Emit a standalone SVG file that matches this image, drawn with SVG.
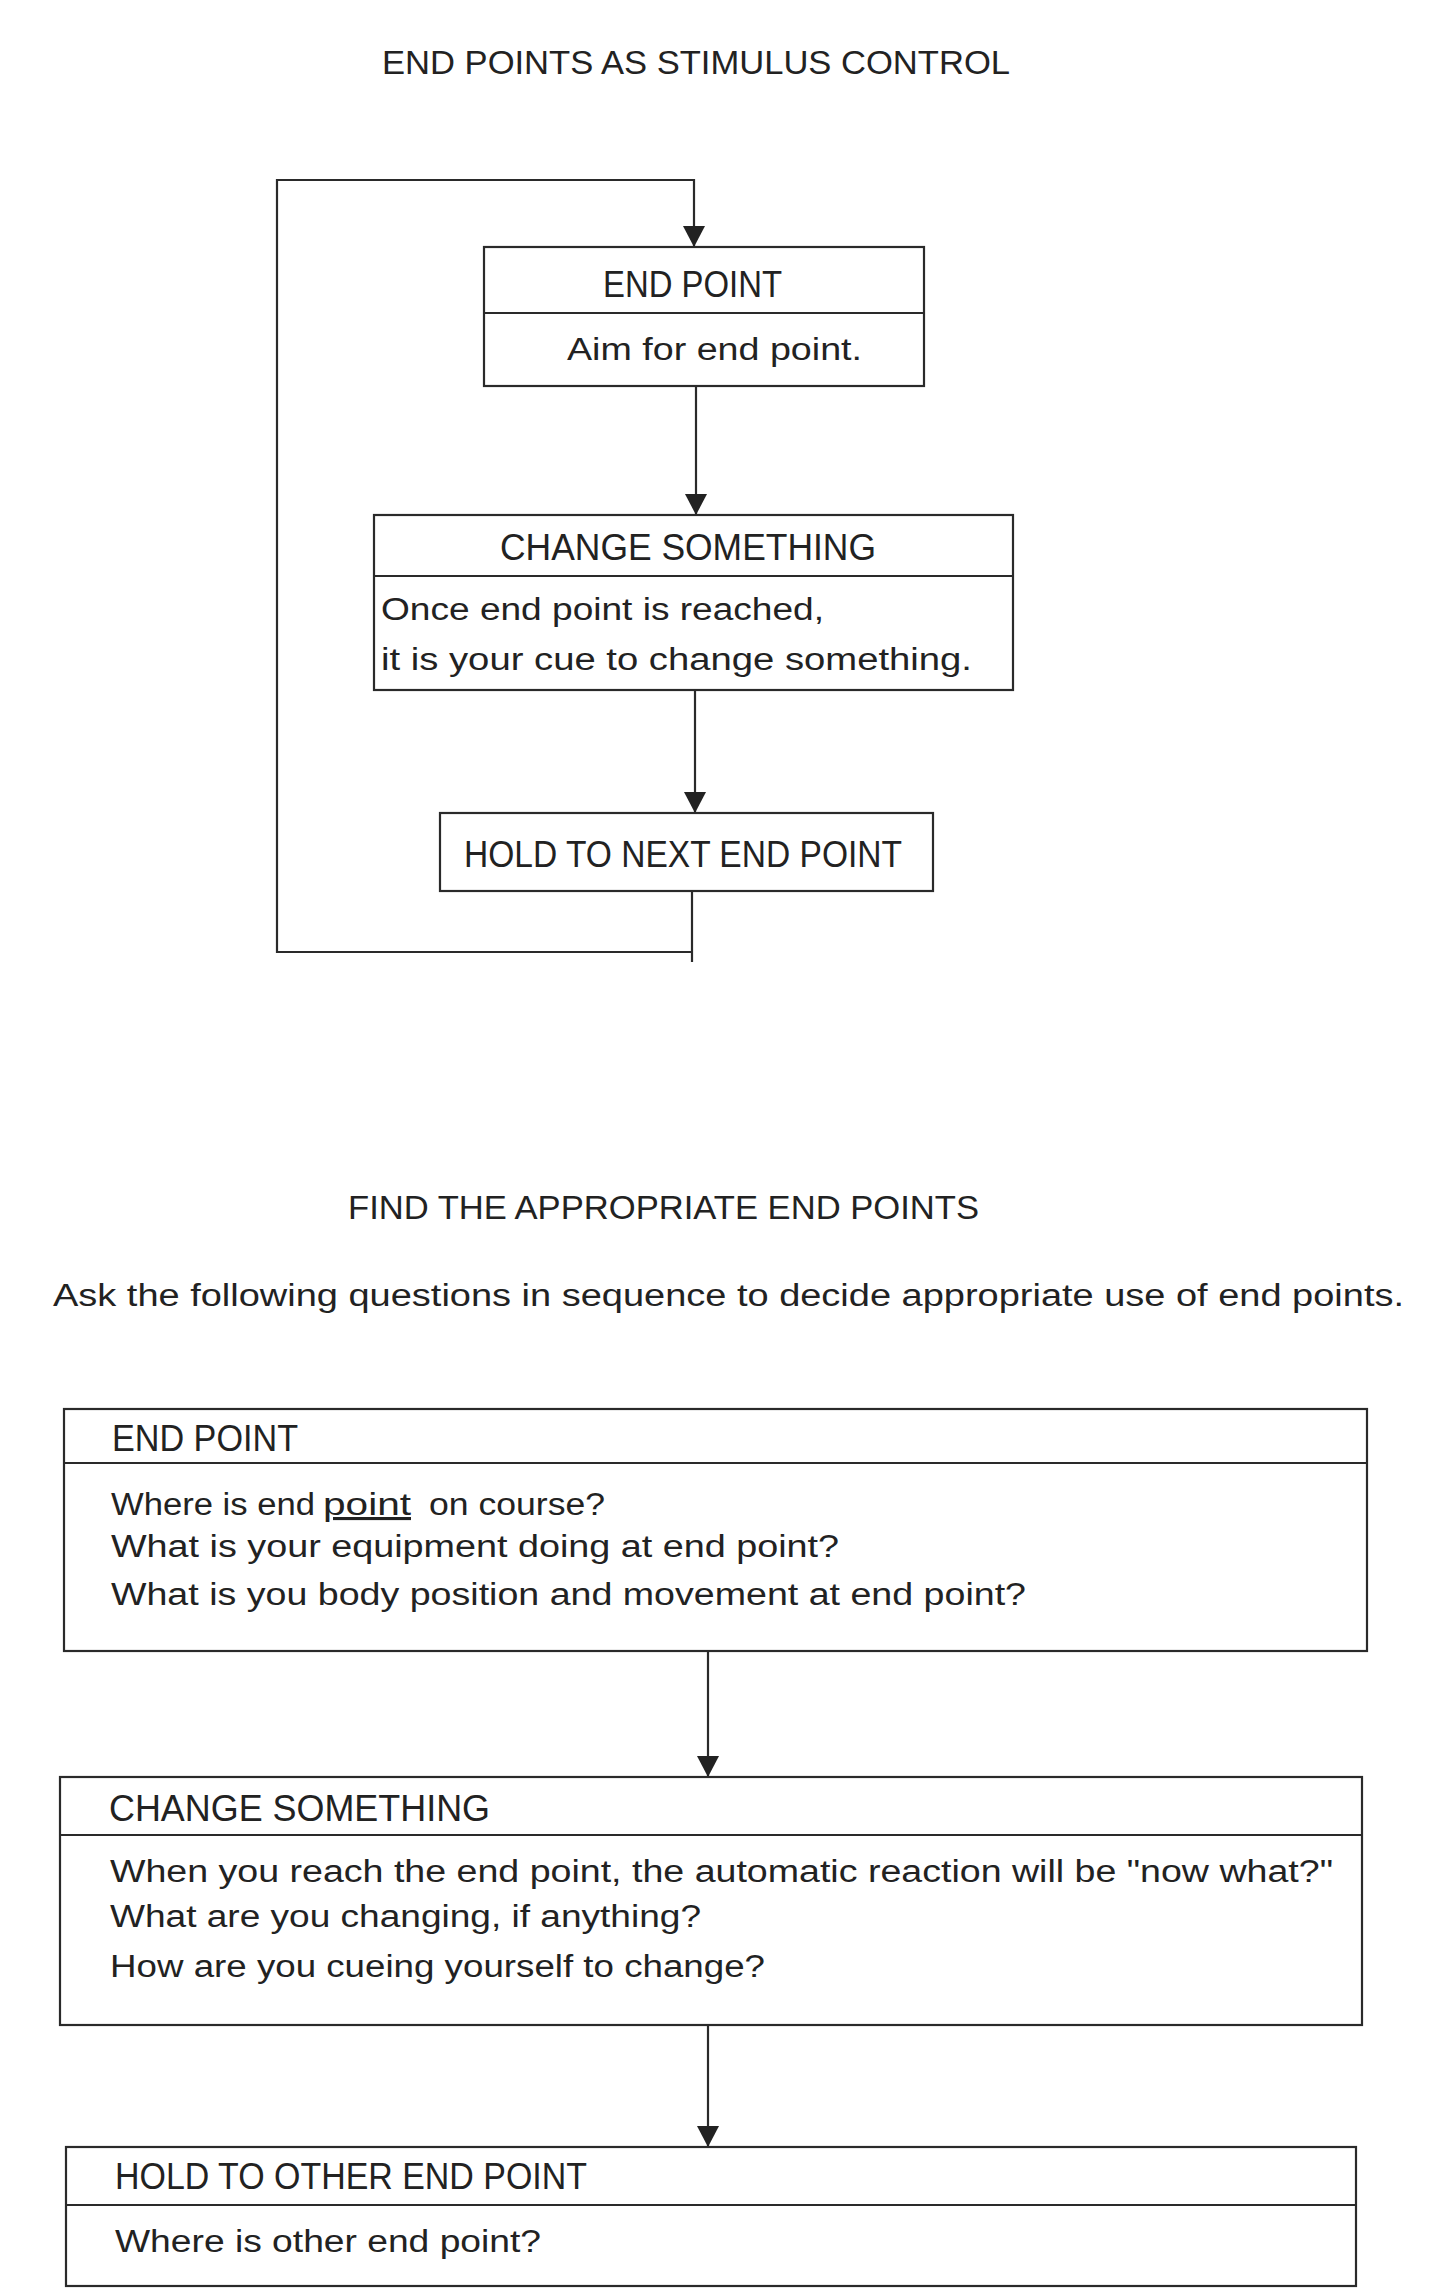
<svg xmlns="http://www.w3.org/2000/svg" width="1437" height="2295" viewBox="0 0 1437 2295">
<defs>
<style>
.box{fill:none;stroke:#2a2a2a;stroke-width:2.2}
.div{stroke:#2a2a2a;stroke-width:2.2}
.con{fill:none;stroke:#2a2a2a;stroke-width:2.2}
text{font-family:"Liberation Sans","DejaVu Sans",sans-serif;fill:#222}
.t{font-size:33px}
.h{font-size:36px}
.b{font-size:31px}
</style>
<marker id="arr" markerUnits="userSpaceOnUse" markerWidth="21" markerHeight="22" refX="21" refY="11" orient="auto" viewBox="0 0 21 22">
<path d="M0,0 L21,11 L0,22 Z" fill="#222"/>
</marker>
</defs>
<rect width="1437" height="2295" fill="#fff"/>

<text class="t" x="382" y="74" textLength="628" lengthAdjust="spacingAndGlyphs">END POINTS AS STIMULUS CONTROL</text>

<g id="connectors">
<path class="con" d="M692,891 V962"/>
<path class="con" d="M692,952 H277 V180 H694 V247" marker-end="url(#arr)"/>
<path class="con" d="M696,386 V515" marker-end="url(#arr)"/>
<path class="con" d="M695,690 V813" marker-end="url(#arr)"/>
<path class="con" d="M708,1651 V1777" marker-end="url(#arr)"/>
<path class="con" d="M708,2025 V2147" marker-end="url(#arr)"/>
</g>

<g id="top-end-point">
<rect class="box" x="484" y="247" width="440" height="139"/>
<line class="div" x1="484" y1="313" x2="924" y2="313"/>
<text class="h" x="603" y="297" textLength="179" lengthAdjust="spacingAndGlyphs">END POINT</text>
<text class="b" x="567" y="360" textLength="295" lengthAdjust="spacingAndGlyphs">Aim for end point.</text>
</g>

<g id="top-change-something">
<rect class="box" x="374" y="515" width="639" height="175"/>
<line class="div" x1="374" y1="576" x2="1013" y2="576"/>
<text class="h" x="500" y="560" textLength="376" lengthAdjust="spacingAndGlyphs">CHANGE SOMETHING</text>
<text class="b" x="381" y="620" textLength="443" lengthAdjust="spacingAndGlyphs">Once end point is reached,</text>
<text class="b" x="381" y="670" textLength="591" lengthAdjust="spacingAndGlyphs">it is your cue to change something.</text>
</g>

<g id="top-hold">
<rect class="box" x="440" y="813" width="493" height="78"/>
<text class="h" x="464" y="867" textLength="438" lengthAdjust="spacingAndGlyphs">HOLD TO NEXT END POINT</text>
</g>

<text class="t" x="348" y="1219" textLength="631" lengthAdjust="spacingAndGlyphs">FIND THE APPROPRIATE END POINTS</text>
<text class="b" x="53" y="1306" textLength="1351" lengthAdjust="spacingAndGlyphs">Ask the following questions in sequence to decide appropriate use of end points.</text>

<g id="end-point">
<rect class="box" x="64" y="1409" width="1303" height="242"/>
<line class="div" x1="64" y1="1463" x2="1367" y2="1463"/>
<text class="h" x="112" y="1451" textLength="186" lengthAdjust="spacingAndGlyphs">END POINT</text>
<text class="b" x="111" y="1515" textLength="204" lengthAdjust="spacingAndGlyphs">Where is end</text>
<text class="b" x="323" y="1515" textLength="88" lengthAdjust="spacingAndGlyphs" text-decoration="underline">point</text>
<text class="b" x="429" y="1515" textLength="176" lengthAdjust="spacingAndGlyphs">on course?</text>
<text class="b" x="111" y="1557" textLength="728" lengthAdjust="spacingAndGlyphs">What is your equipment doing at end point?</text>
<text class="b" x="111" y="1605" textLength="915" lengthAdjust="spacingAndGlyphs">What is you body position and movement at end point?</text>
</g>

<g id="change-something">
<rect class="box" x="60" y="1777" width="1302" height="248"/>
<line class="div" x1="60" y1="1835" x2="1362" y2="1835"/>
<text class="h" x="109" y="1821" textLength="381" lengthAdjust="spacingAndGlyphs">CHANGE SOMETHING</text>
<text class="b" x="110" y="1882" textLength="1223" lengthAdjust="spacingAndGlyphs">When you reach the end point, the automatic reaction will be "now what?"</text>
<text class="b" x="110" y="1927" textLength="591" lengthAdjust="spacingAndGlyphs">What are you changing, if anything?</text>
<text class="b" x="110" y="1977" textLength="655" lengthAdjust="spacingAndGlyphs">How are you cueing yourself to change?</text>
</g>

<g id="hold-other">
<rect class="box" x="66" y="2147" width="1290" height="139"/>
<line class="div" x1="66" y1="2205" x2="1356" y2="2205"/>
<text class="h" x="115" y="2189" textLength="472" lengthAdjust="spacingAndGlyphs">HOLD TO OTHER END POINT</text>
<text class="b" x="115" y="2252" textLength="426" lengthAdjust="spacingAndGlyphs">Where is other end point?</text>
</g>
</svg>
